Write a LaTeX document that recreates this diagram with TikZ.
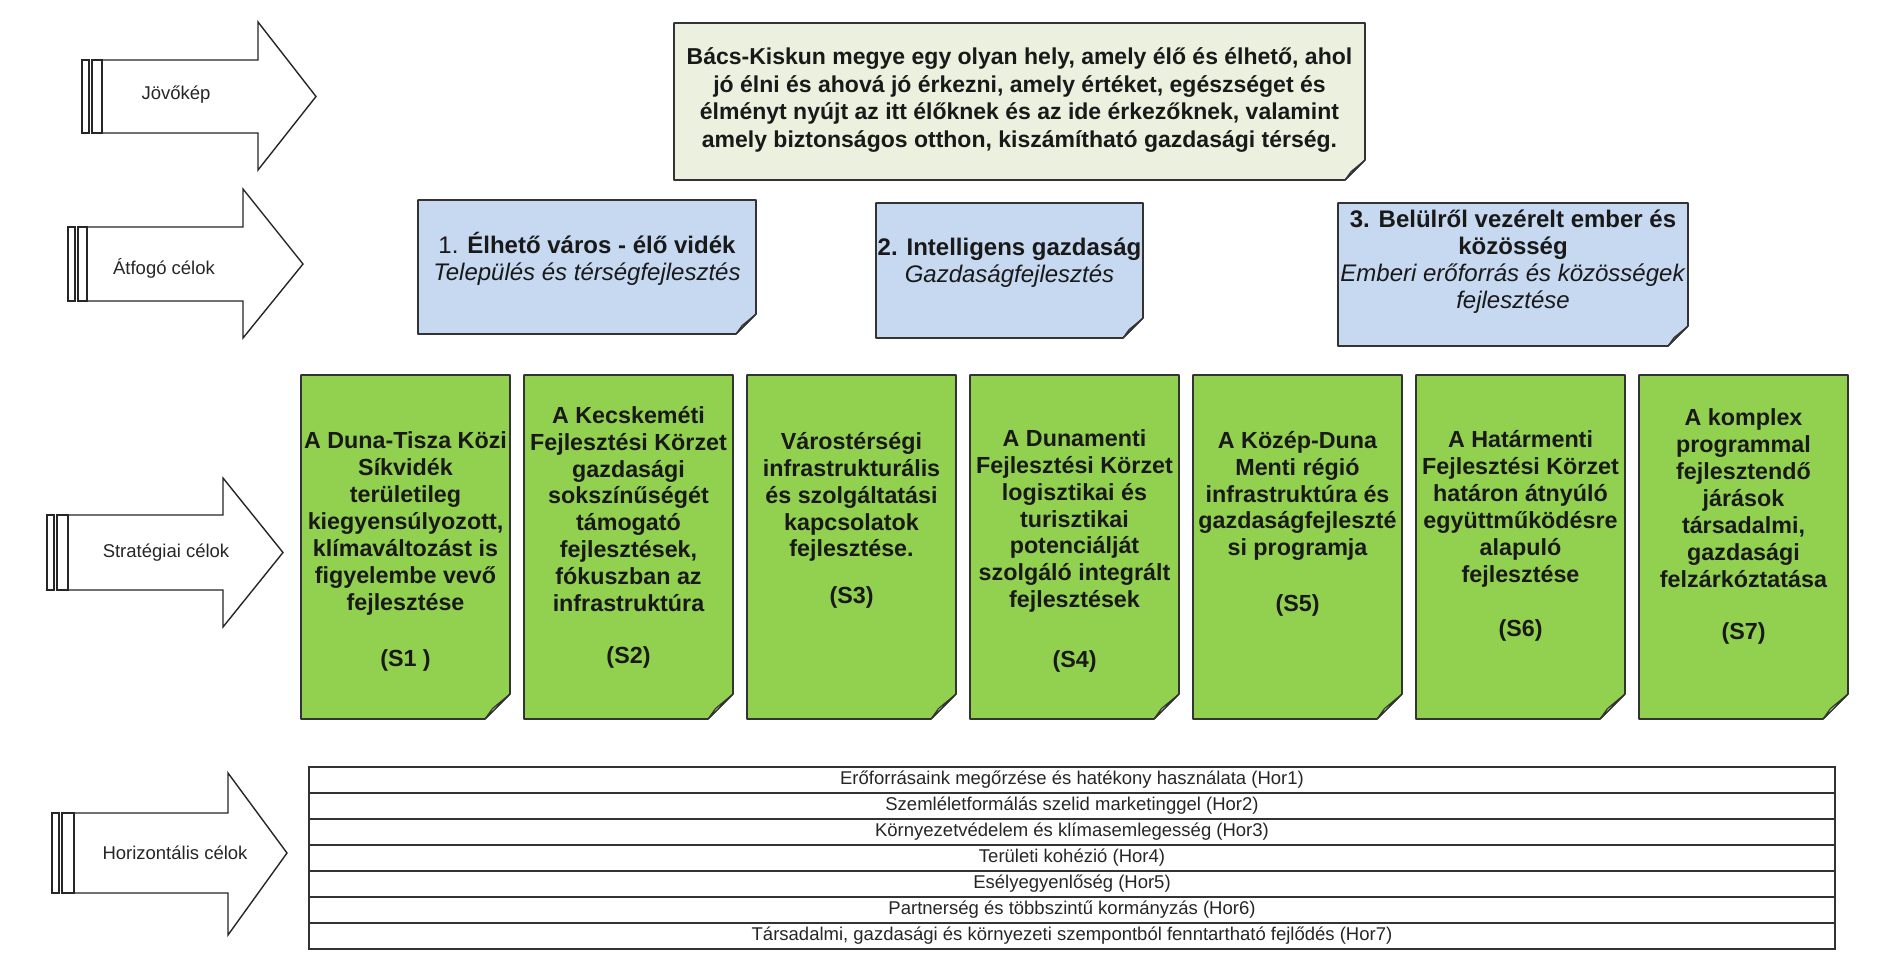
\documentclass[tikz,border=0pt]{standalone}
\usepackage{fontspec}
\setmainfont{Liberation Sans}
\definecolor{vfill}{HTML}{EBF1DE}
\definecolor{vfold}{HTML}{F6F9F0}
\definecolor{bfill}{HTML}{C6D9F1}
\definecolor{bfold}{HTML}{E4EDF8}
\definecolor{gfill}{HTML}{92D050}
\definecolor{gfold}{HTML}{C2E49C}
\definecolor{edgec}{HTML}{333333}
\tikzset{
  arrline/.style={draw=black!85, line width=1.4pt, line join=miter},
  alabel/.style={font=\fontsize{18.5}{22}\selectfont, inner sep=0, text=black!85},
  shapebox/.style={rectangle, inner sep=0, outer sep=0, draw=none},
  gtext/.style={font=\fontsize{23.3}{26.9}\selectfont\bfseries, align=center, inner sep=0, text=black!90},
  btext/.style={font=\fontsize{24}{27}\selectfont, align=center, inner sep=0, text=black!90},
  vtext/.style={font=\fontsize{23}{27.7}\selectfont\bfseries, align=center, inner sep=0, text=black!90},
  hrow/.style={draw=edgec, line width=1.2pt, minimum width=1526pt, minimum height=26pt, inner sep=0, font=\fontsize{18.5}{22}\selectfont, text=black!85}
}
\newcommand\noteshape[4]{%
  \filldraw[fill=#2, draw=edgec, line width=1.6pt, line join=round]
    (#1.north west) -- (#1.north east) -- ([yshift=#4]#1.south east)
    -- ([xshift=-#4]#1.south east) -- (#1.south west) -- cycle;
  \filldraw[fill=#3, draw=edgec, line width=1.1pt, line join=round]
    ([yshift=#4]#1.south east) -- ([xshift=-0.7*#4,yshift=0.42*#4]#1.south east)
    -- ([xshift=-#4]#1.south east) -- cycle;
}
\newcommand\bararrow[8]{%
  \draw[arrline] (#1,#5) rectangle (#1+7,#6);
  \draw[arrline] (#1+10,#5) rectangle (#2,#6);
  \draw[arrline] (#2,#5) -- (#3,#5) -- (#3,#7) -- (#4,{(#5+#6)/2}) -- (#3,#8) -- (#3,#6) -- (#2,#6);
}
\begin{document}
\begin{tikzpicture}[x=1pt,y=-1pt]
\fill[white] (0,0) rectangle (1890,958);
\useasboundingbox (0,0) rectangle (1890,958);

% left arrows
\bararrow{82}{102}{258}{316}{60}{133}{22}{170}
\node[alabel] (lj) at (176,95) {Jövőkép};
\bararrow{68}{87}{243}{303}{227}{301}{189}{338}
\node[alabel] (la) at (164,268) {Átfogó célok};
\bararrow{47}{68}{223}{283}{515}{590}{478}{627}
\node[alabel] (ls) at (166,553) {Stratégiai célok};
\bararrow{52}{74}{228}{287}{813}{893}{773}{935}
\node[alabel] (lh) at (175,853) {Horizontális célok};

% vision
\node[shapebox, minimum width=691pt, minimum height=157pt] (vis) at (1019.5,101.5) {};
\noteshape{vis}{vfill}{vfold}{20pt}
\node[vtext] (vist) at (1019.5,100) {Bács-Kiskun megye egy olyan hely, amely élő és élhető, ahol\\
jó élni és ahová jó érkezni, amely értéket, egészséget és\\
élményt nyújt az itt élőknek és az ide érkezőknek, valamint\\
amely biztonságos otthon, kiszámítható gazdasági térség.};

% overarching goals
\node[shapebox, minimum width=338pt, minimum height=134pt] (a1) at (587,267) {};
\noteshape{a1}{bfill}{bfold}{20pt}
\node[btext] (a1t) at (587,259) {1. \textbf{Élhető város - élő vidék}\\\textit{Település és térségfejlesztés}};
\node[shapebox, minimum width=267pt, minimum height=135pt] (a2) at (1009.5,270.5) {};
\noteshape{a2}{bfill}{bfold}{20pt}
\node[btext] (a2t) at (1009.5,263) {\textbf{2. Intelligens gazdaság}\\\textit{Gazdaságfejlesztés}};
\node[shapebox, minimum width=350pt, minimum height=143pt] (a3) at (1513,274.5) {};
\noteshape{a3}{bfill}{bfold}{20pt}
\node[btext] (a3t) at (1513,262) {\textbf{3. Belülről vezérelt ember és}\\\textbf{közösség}\\\textit{Emberi erőforrás és közösségek}\\\textit{fejlesztése}};

% strategic goals
\foreach \i/\cx in {1/405.5,2/628.5,3/851.5,4/1074.5,5/1297.5,6/1520.5,7/1743.5}{
  \node[shapebox, minimum width=209pt, minimum height=344pt] (s\i) at (\cx,547) {};
  \noteshape{s\i}{gfill}{gfold}{25pt}
}
\node[gtext] (s1t) at (405.5,523.5) {A Duna-Tisza Közi\\Síkvidék\\területileg\\kiegyensúlyozott,\\klímaváltozást is\\figyelembe vevő\\fejlesztése};
\node[gtext] (s1l) at (405.5,660) {(S1 )};
\node[gtext] (s2t) at (628.5,509) {A Kecskeméti\\Fejlesztési Körzet\\gazdasági\\sokszínűségét\\támogató\\fejlesztések,\\fókuszban az\\infrastruktúra};
\node[gtext] (s2l) at (628.5,657) {(S2)};
\node[gtext] (s3t) at (851.5,497) {Várostérségi\\infrastrukturális\\és szolgáltatási\\kapcsolatok\\fejlesztése.};
\node[gtext] (s3l) at (851.5,597) {(S3)};
\node[gtext] (s4t) at (1074.5,521) {A Dunamenti\\Fejlesztési Körzet\\logisztikai és\\turisztikai\\potenciálját\\szolgáló integrált\\fejlesztések};
\node[gtext] (s4l) at (1074.5,661) {(S4)};
\node[gtext] (s5t) at (1297.5,496) {A Közép-Duna\\Menti régió\\infrastruktúra és\\gazdaságfejleszté\\si programja};
\node[gtext] (s5l) at (1297.5,605) {(S5)};
\node[gtext] (s6t) at (1520.5,509) {A Határmenti\\Fejlesztési Körzet\\határon átnyúló\\együttműködésre\\alapuló\\fejlesztése};
\node[gtext] (s6l) at (1520.5,630) {(S6)};
\node[gtext] (s7t) at (1743.5,498) {A komplex\\programmal\\fejlesztendő\\járások\\társadalmi,\\gazdasági\\felzárkóztatása};
\node[gtext] (s7l) at (1743.5,633) {(S7)};

% horizontal goals
\node[hrow] (h1) at (1072,780) {Erőforrásaink megőrzése és hatékony használata (Hor1)};
\node[hrow] (h2) at (1072,806) {Szemléletformálás szelid marketinggel (Hor2)};
\node[hrow] (h3) at (1072,832) {Környezetvédelem és klímasemlegesség (Hor3)};
\node[hrow] (h4) at (1072,858) {Területi kohézió (Hor4)};
\node[hrow] (h5) at (1072,884) {Esélyegyenlőség (Hor5)};
\node[hrow] (h6) at (1072,910) {Partnerség és többszintű kormányzás (Hor6)};
\node[hrow] (h7) at (1072,936) {Társadalmi, gazdasági és környezeti szempontból fenntartható fejlődés (Hor7)};
\end{tikzpicture}
\end{document}
